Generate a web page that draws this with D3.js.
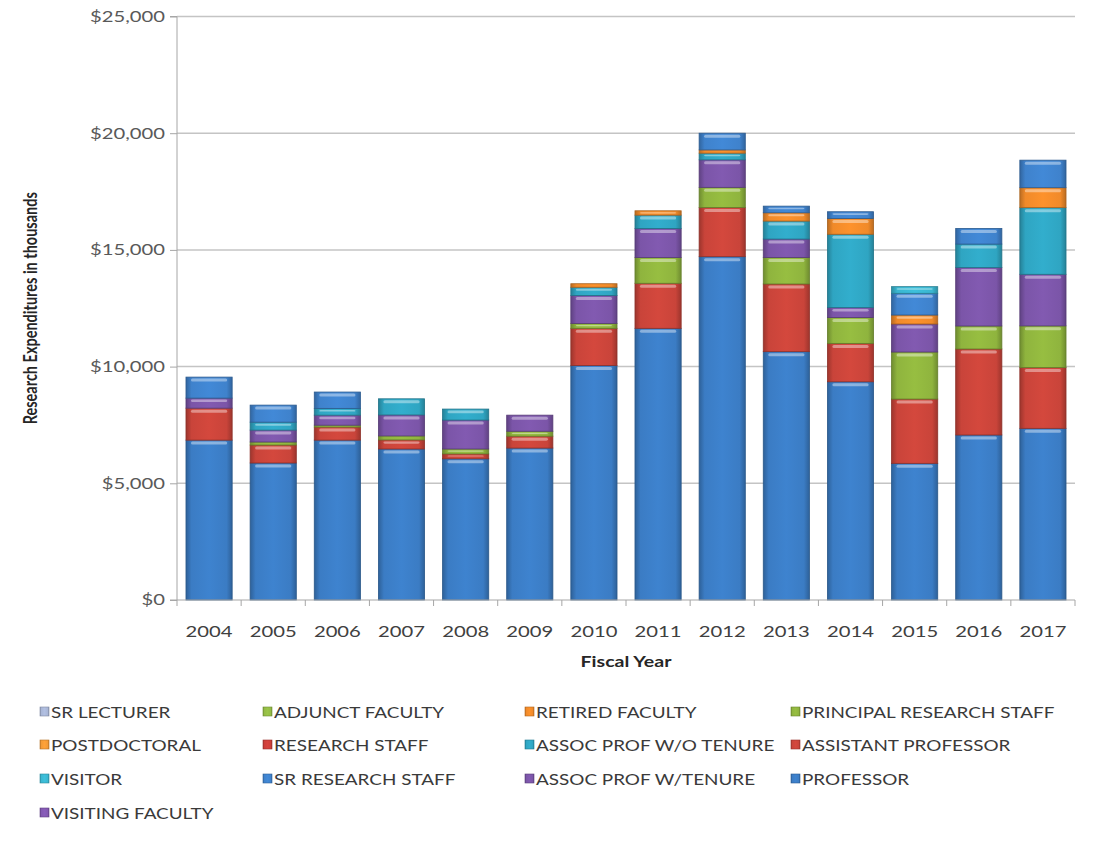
<!DOCTYPE html>
<html>
<head>
<meta charset="utf-8">
<script src="https://cdn.jsdelivr.net/npm/d3@7"></script>
<style>
  body { margin: 0; background: #fff; }
  text { font-family: Lato, "Liberation Sans", sans-serif; }
</style>
</head>
<body>
<script>
// values in thousands of dollars
var years = ["2004", "2005", "2006", "2007", "2008", "2009", "2010",
             "2011", "2012", "2013", "2014", "2015", "2016", "2017"];

var professor              = [6850, 5870, 6850, 6470, 6050, 6510, 10050, 11640, 14710, 10640, 9350, 5855, 7070, 7355];
var assistantProfessor     = [1370,  770,  560,  390,  210,  510,  1590,  1930,  2110,  2900, 1645, 2755, 3685, 2605];
var principalResearchStaff = [   0,  130,   80,  170,  210,  210,   210,  1100,   860,  1135, 1105, 2015,  985, 1785];
var assocProfWithTenure    = [ 430,  510,  430,  900, 1240,  690,  1200,  1250,  1180,   790,  430, 1200, 2505, 2210];
var assocProfWithoutTenure = [   0,  340,  290,  690,  470,    0,   350,   570,   285,   770, 3140,    0, 1005, 2855];
var retiredFaculty         = [   0,    0,    0,    0,    0,    0,   150,   185,   140,   355,  680,  385,    0,  855];
var srResearchStaff        = [ 900,  730,  700,    0,    0,    0,     0,     0,   715,   285,  285,  930,  670, 1180];
var researchStaff          = [   0,    0,    0,    0,    0,    0,     0,     0,     0,     0,    0,    0,    0,    0];
var adjunctFaculty         = [   0,    0,    0,    0,    0,    0,     0,     0,     0,     0,    0,    0,    0,    0];
var visitingFaculty        = [   0,    0,    0,    0,    0,    0,     0,     0,     0,     0,    0,    0,    0,    0];
var visitor                = [   0,    0,    0,    0,    0,    0,     0,     0,     0,     0,    0,  285,    0,    0];
var postdoctoral           = [   0,    0,    0,    0,    0,    0,     0,     0,     0,     0,    0,    0,    0,    0];
var srLecturer             = [   0,    0,    0,    0,    0,    0,     0,     0,     0,     0,    0,    0,    0,    0];

// stacking order, bottom to top
var seriesNames = ["PROFESSOR", "ASSISTANT PROFESSOR", "PRINCIPAL RESEARCH STAFF",
                   "ASSOC PROF W/TENURE", "ASSOC PROF W/O TENURE", "RETIRED FACULTY",
                   "SR RESEARCH STAFF", "RESEARCH STAFF", "ADJUNCT FACULTY",
                   "VISITING FACULTY", "VISITOR", "POSTDOCTORAL", "SR LECTURER"];
var seriesValues = [professor, assistantProfessor, principalResearchStaff,
                    assocProfWithTenure, assocProfWithoutTenure, retiredFaculty,
                    srResearchStaff, researchStaff, adjunctFaculty,
                    visitingFaculty, visitor, postdoctoral, srLecturer];
var seriesColors = ["#3b7cc4", "#c9443a", "#8fb43e", "#7b55a8", "#2fa5c2", "#f08a2a",
                    "#3f82cc", "#cc3f3a", "#93bb45", "#8258b0", "#3ab6d0", "#f29a36", "#a9b6d6"];

var yTicks = [0, 5000, 10000, 15000, 20000, 25000];

var w = 1099, h = 859;
var plotLeft = 177, plotRight = 1075, plotTop = 16.5, plotBottom = 600;
var sx = 1.35;  // the picture's text is stretched sideways
var lsx = 1.22; // a bit less for the legend so columns don't collide

var svg = d3.select("body")
            .append("svg")
            .attr("width", w)
            .attr("height", h);

var table = years.map(function(y, i) {
    var row = {year: y};
    seriesNames.forEach(function(s, j) { row[s] = seriesValues[j][i]; });
    return row;
});

var stack = d3.stack().keys(seriesNames)(table);

var xScale = d3.scaleBand()
               .domain(years)
               .range([plotLeft, plotRight])
               .paddingInner(0.28)
               .paddingOuter(0.14);

var yScale = d3.scaleLinear()
               .domain([0, 25000])
               .range([plotBottom, plotTop]);

// gradients for the bevelled look
var defs = svg.append("defs");
seriesColors.forEach(function(c, i) {
    var g = defs.append("linearGradient")
                .attr("id", "grad" + i)
                .attr("x1", "0").attr("x2", "1")
                .attr("y1", "0").attr("y2", "0");
    var dark = d3.color(c).darker(0.7);
    g.append("stop").attr("offset", "0%").attr("stop-color", dark);
    g.append("stop").attr("offset", "12%").attr("stop-color", c);
    g.append("stop").attr("offset", "50%").attr("stop-color", d3.color(c).brighter(0.15));
    g.append("stop").attr("offset", "88%").attr("stop-color", c);
    g.append("stop").attr("offset", "100%").attr("stop-color", dark);
});

// gridlines
svg.append("g")
   .selectAll("line")
   .data(yTicks.slice(1))
   .enter()
   .append("line")
   .attr("x1", plotLeft)
   .attr("x2", plotRight)
   .attr("y1", d => yScale(d))
   .attr("y2", d => yScale(d))
   .attr("stroke", "#c4c4c4")
   .attr("stroke-width", 1.5);

var yAxis = d3.axisLeft()
              .scale(yScale)
              .tickValues(yTicks)
              .tickSize(7)
              .tickFormat(d => "$" + d3.format(",")(d));

var yG = svg.append("g")
            .attr("transform", "translate(" + plotLeft + ",0)")
            .call(yAxis);
yG.selectAll("path, line").attr("stroke", "#a6a6a6");
yG.select(".domain").attr("d", "M-7," + yScale(25000) + "H0V" + plotBottom + "H-7");
yG.selectAll("text")
  .attr("x", -12 / sx)
  .attr("transform", "scale(" + sx + ",1)")
  .attr("fill", "#595959")
  .style("font-size", "15px");

// bars
var layers = svg.append("g")
                .selectAll("g")
                .data(stack)
                .enter()
                .append("g");

layers.selectAll("rect.seg")
      .data((d, i) => d.map(p => ({p: p, i: i})))
      .enter()
      .filter(d => d.p[1] - d.p[0] > 0)
      .append("rect")
      .attr("class", "seg")
      .attr("x", d => xScale(d.p.data.year))
      .attr("y", d => yScale(d.p[1]))
      .attr("width", xScale.bandwidth())
      .attr("height", d => yScale(d.p[0]) - yScale(d.p[1]))
      .attr("fill", d => "url(#grad" + d.i + ")")
      .attr("stroke", d => d3.color(seriesColors[d.i]).darker(1))
      .attr("stroke-width", 0.8);

// highlight strip at top of each segment
layers.selectAll("rect.hl")
      .data((d, i) => d.map(p => ({p: p, i: i})))
      .enter()
      .filter(d => yScale(d.p[0]) - yScale(d.p[1]) > 4)
      .append("rect")
      .attr("class", "hl")
      .attr("x", d => xScale(d.p.data.year) + 5)
      .attr("y", d => yScale(d.p[1]) + 1.5)
      .attr("width", xScale.bandwidth() - 10)
      .attr("height", d => Math.min(3, (yScale(d.p[0]) - yScale(d.p[1])) / 4))
      .attr("rx", 1.5)
      .attr("fill", "#ffffff")
      .attr("opacity", 0.4);

// x axis
var xAxis = d3.axisBottom()
              .scale(xScale)
              .tickSize(0)
              .tickPadding(26);

var xG = svg.append("g")
            .attr("transform", "translate(0," + plotBottom + ")")
            .call(xAxis);
xG.select(".domain").attr("stroke", "#a6a6a6").attr("d", "M" + plotLeft + ",0H" + plotRight);
xG.selectAll("text")
  .attr("transform", "scale(" + sx + ",1)")
  .attr("fill", "#404040")
  .style("font-size", "15px");

// category separators on the x axis
var sep = years.map(d => xScale(d) - xScale.step() * xScale.paddingInner() / 2);
sep.push(plotRight);
svg.append("g")
   .selectAll("line")
   .data(sep)
   .enter()
   .append("line")
   .attr("x1", d => d)
   .attr("x2", d => d)
   .attr("y1", plotBottom)
   .attr("y2", plotBottom + 6)
   .attr("stroke", "#a6a6a6");

// axis titles
svg.append("text")
   .attr("transform", "translate(" + (plotLeft + plotRight) / 2 + ",667) scale(" + sx + ",1)")
   .attr("text-anchor", "middle")
   .attr("fill", "#262626")
   .style("font-size", "14.5px")
   .style("font-weight", "bold")
   .text("Fiscal Year");

svg.append("text")
   .attr("transform", "translate(37," + (plotTop + plotBottom) / 2 + ") rotate(-90) scale(1," + sx + ")")
   .attr("text-anchor", "middle")
   .attr("fill", "#262626")
   .style("font-size", "14.5px")
   .style("font-weight", "bold")
   .text("Research Expenditures in thousands");

// legend, reversed order, filled column by column
var legendCols = [40, 263, 525, 791];
var legendRows = [712, 745, 779, 813];
var legendOrder = seriesNames.map((s, i) => i).reverse();
var colSizes = [4, 3, 3, 3];
var legendItems = [];
var k = 0;
colSizes.forEach(function(n, c) {
    for (var r = 0; r < n; r++) {
        legendItems.push({i: legendOrder[k], col: c, row: r});
        k++;
    }
});

var legend = svg.append("g")
                .selectAll("g")
                .data(legendItems)
                .enter()
                .append("g")
                .attr("transform", d => "translate(" + legendCols[d.col] + "," + legendRows[d.row] + ")");

legend.append("rect")
      .attr("x", 0)
      .attr("y", -5)
      .attr("width", 9)
      .attr("height", 9)
      .attr("fill", d => "url(#grad" + d.i + ")")
      .attr("stroke", d => d3.color(seriesColors[d.i]).darker(0.8))
      .attr("stroke-width", 0.6);

legend.append("text")
      .attr("x", 11 / lsx)
      .attr("y", 6)
      .attr("transform", "scale(" + lsx + ",1)")
      .attr("fill", "#3a3a3a")
      .style("font-size", "15.5px")
      .text(d => seriesNames[d.i]);
</script>
</body>
</html>
